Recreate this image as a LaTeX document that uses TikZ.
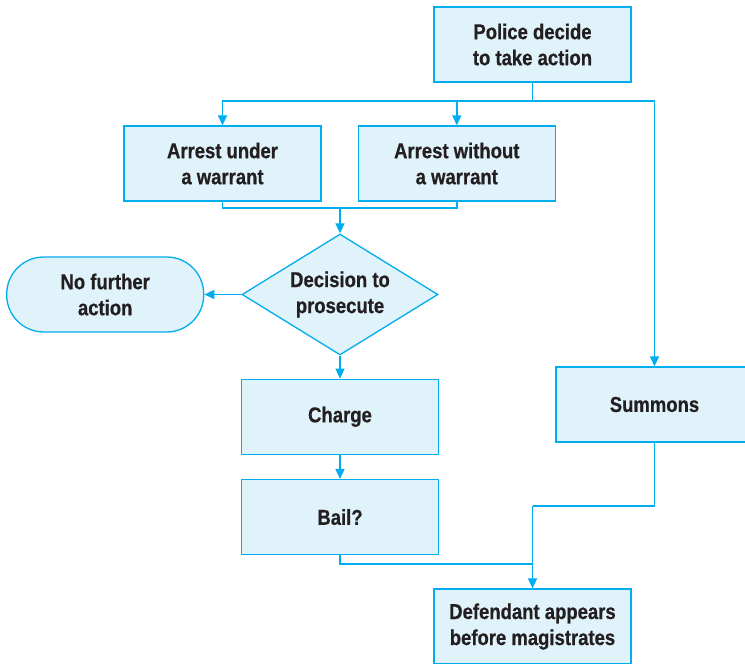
\documentclass[tikz,border=0pt]{standalone}
\usepackage{fontspec}
\setmainfont{Liberation Sans}[FakeStretch=0.86, BoldFeatures={FakeBold=0.6}]
\usetikzlibrary{positioning,shapes.geometric,arrows.meta}
\definecolor{lineblue}{RGB}{0,174,239}
\definecolor{fillblue}{RGB}{224,242,250}
\definecolor{textgrey}{RGB}{35,31,32}
\tikzset{
	box/.style={draw=lineblue, fill=fillblue, line width=1.3pt, minimum width=197pt, minimum height=75pt,
		inner sep=0pt, align=center, text=textgrey, font=\bfseries\fontsize{21.5}{26}\selectfont},
	stadium/.style={box, rounded corners=37pt},
	choice/.style={box, diamond, aspect=1.62, minimum width=196pt, minimum height=121pt},
	link/.style={draw=lineblue, line width=1.5pt},
	flow/.style={link, -{Triangle[length=10pt,width=9pt]}},
}

\begin{document}
\begin{tikzpicture}[x=1pt, y=-1pt]
	\useasboundingbox (0,0) rectangle (745,664);
	
	\node [box] (pol) at (532.5,44.5) {Police decide\\to take action};
	\node [box] (auw) at (222.5,163.5) {Arrest under\\a warrant};
	\node [box, right=36pt of auw] (aww) {Arrest without\\a warrant};
	\node [choice] (dec) at (340,294.5) {Decision to\\prosecute};
	\node [stadium, left=37pt of dec] (nfa) {No further\\action};
	\node [box, below=23pt of dec] (chg) {Charge};
	\node [box, below=24pt of chg] (bail) {Bail?};
	\node [box] (sum) at (654.5,404.5) {Summons};
	\node [box] (def) at (532.5,626.5) {Defendant appears\\before magistrates};
	
	\coordinate (j1) at (532.5,101);
	\coordinate (j2) at (340,208);
	\coordinate (j3) at (532.5,506);
	\coordinate (j4) at (532.5,564);
	
	\draw [link] (pol) -- (j1);
	\draw [flow] (j1) -| (auw);
	\draw [flow] (j1) -| (aww);
	\draw [flow] (j1) -| (sum);
	\draw [link] (auw) |- (j2) -| (aww);
	\draw [flow] (j2) -- (dec);
	\draw [flow] (dec) -- (nfa);
	\draw [flow] (dec) -- (chg);
	\draw [flow] (chg) -- (bail);
	\draw [link] (sum) |- (j3);
	\draw [link] (bail) |- (j4);
	\draw [flow] (j3) -- (def);
\end{tikzpicture}
\end{document}
